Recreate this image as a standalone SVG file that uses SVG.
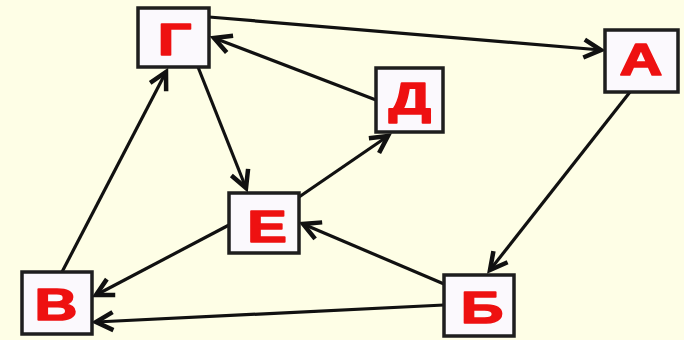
<svg xmlns="http://www.w3.org/2000/svg" width="684" height="340" viewBox="0 0 684 340">
  <style>
    .box { fill: #fbf9fd; stroke: #1e1e1e; stroke-width: 3.5; }
    .lbl { font-family: "Liberation Sans", Arial, sans-serif; font-weight: bold; font-size: 45px; fill: #ee1111; stroke: #ee1111; stroke-width: 1.6; stroke-linejoin: round; text-anchor: middle; }
    .edge { stroke: #111; stroke-width: 3.2; fill: none; marker-end: url(#arrow); }
  </style>
  <defs>
    <marker id="arrow" markerUnits="userSpaceOnUse" markerWidth="28" markerHeight="28" viewBox="-22 -14 28 28" refX="0" refY="0" orient="auto">
      <path d="M-17,-9 L0,0 L-17,9" fill="none" stroke="#111" stroke-width="4.5" stroke-linejoin="miter"/>
    </marker>
  </defs>
  <rect x="0" y="0" width="684" height="340" fill="#fefee6"/>

  <g id="edges">
    <line class="edge" x1="209" y1="17" x2="601" y2="50"/>
    <line class="edge" x1="376" y1="100" x2="214" y2="38"/>
    <line class="edge" x1="198" y1="67" x2="246" y2="188"/>
    <line class="edge" x1="62" y1="272" x2="166" y2="72"/>
    <line class="edge" x1="299" y1="197" x2="388" y2="136"/>
    <line class="edge" x1="229" y1="225" x2="96" y2="295"/>
    <line class="edge" x1="444" y1="284" x2="303" y2="224"/>
    <line class="edge" x1="630" y1="92" x2="490" y2="270"/>
    <line class="edge" x1="444" y1="305" x2="96" y2="322"/>
  </g>

  <g id="node-G">
    <rect class="box" x="138" y="8" width="71" height="59"/>
    <text class="lbl" transform="translate(174.5,55) scale(1.32,1)">Г</text>
  </g>
  <g id="node-A">
    <rect class="box" x="605" y="30" width="73" height="62"/>
    <text class="lbl" transform="translate(641,75) scale(1.32,1)">А</text>
  </g>
  <g id="node-D">
    <rect class="box" x="376" y="68" width="67" height="64"/>
    <text class="lbl" transform="translate(410,114) scale(1.32,1)">Д</text>
  </g>
  <g id="node-E">
    <rect class="box" x="229" y="193" width="70" height="60"/>
    <text class="lbl" transform="translate(267,242) scale(1.32,1)">Е</text>
  </g>
  <g id="node-V">
    <rect class="box" x="22" y="272" width="70" height="62"/>
    <text class="lbl" transform="translate(56,320) scale(1.32,1)">В</text>
  </g>
  <g id="node-B">
    <rect class="box" x="444" y="275" width="70" height="61"/>
    <text class="lbl" transform="translate(482,323) scale(1.32,1)">Б</text>
  </g>
</svg>
